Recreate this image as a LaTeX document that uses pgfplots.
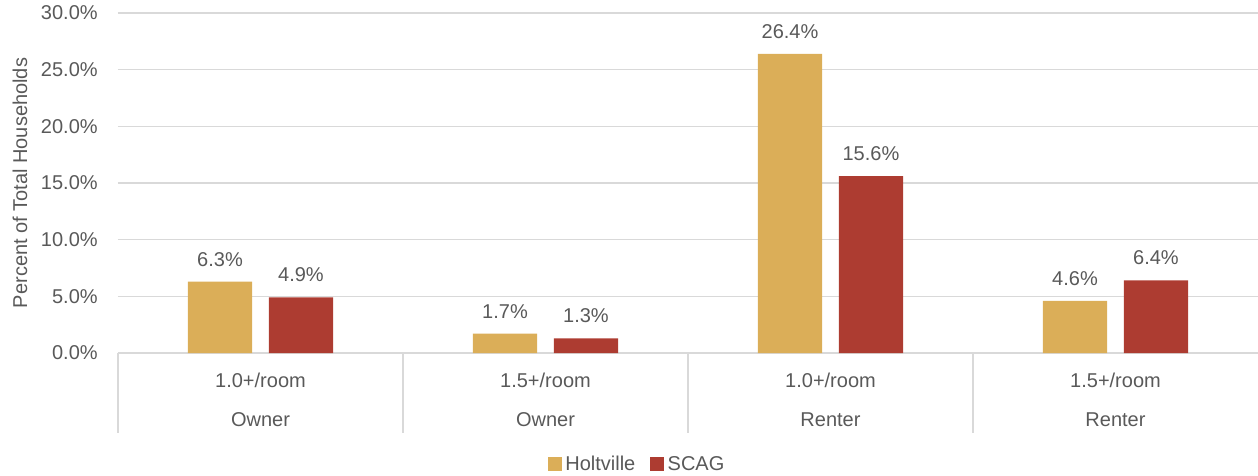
\documentclass[border=0pt]{standalone}
\usepackage{pgfplots}
\pgfplotsset{compat=1.18}
\usepackage{fontspec}
\setmainfont{Liberation Sans}
\definecolor{gold}{HTML}{DBAE58}
\definecolor{brick}{HTML}{AD3C31}
\definecolor{txt}{HTML}{595959}
\definecolor{gridc}{HTML}{D9D9D9}
\begin{document}
\begin{tikzpicture}
\useasboundingbox (-70.8pt,-73.2pt) rectangle (684pt,211.8pt);
\begin{axis}[
  at={(0,0)}, anchor=south west,
  scale only axis, width=684pt, height=204pt,
  ybar, bar width=0.225,
  xmin=-0.5, xmax=3.5, ymin=0, ymax=30,
  ytick={0,5,...,30},
  xtick=\empty,
  axis x line*=bottom, axis y line*=left,
  x axis line style={gridc, line width=0.8pt, -},
  y axis line style={draw=none},
  ymajorgrids, grid style={gridc, line width=0.8pt},
  major tick length=0pt,
  clip=false,
  font=\fontsize{12}{14}\selectfont,
  /pgf/number format/assume math mode=true,
  yticklabel={\pgfmathprintnumber[fixed,fixed zerofill,precision=1]{\tick}\%},
  yticklabel style={text=txt, anchor=east, inner sep=0pt, xshift=-12pt, font=\fontsize{12}{14}\selectfont},
  ylabel={Percent of Total Households},
  ylabel style={text=txt, at={(axis description cs:-0.086,0.5)}, anchor=center, font=\fontsize{12}{14}\selectfont},
  nodes near coords={\pgfmathprintnumber[fixed,fixed zerofill,precision=1]{\pgfplotspointmeta}\%},
  every node near coord/.append style={text=txt, anchor=south, inner sep=0pt, yshift=9pt, font=\fontsize{12}{14}\selectfont},
  legend style={at={(axis description cs:0.456,-0.329)}, anchor=center, draw=none, legend columns=2,
    font=\fontsize{12}{14}\selectfont, text=txt,
    /tikz/every even column/.append style={column sep=7pt}},
  legend image code/.code={\fill[#1] (0pt,-3.6pt) rectangle (8.4pt,4.8pt);},
]
\addplot[fill=gold, draw=none, bar shift=-0.142] coordinates {(0,6.3) (1,1.7) (2,26.4) (3,4.6)};
\addlegendentry{Holtville}
\addplot[fill=brick, draw=none, bar shift=0.142] coordinates {(0,4.9) (1,1.3) (2,15.6) (3,6.4)};
\addlegendentry{SCAG}
\foreach \s in {-0.5,0.5,1.5,2.5}{
  \edef\temp{\noexpand\draw[gridc, line width=0.8pt] (axis cs:\s,0) -- ++(0pt,-48pt);}
  \temp
}
\foreach \c/\a/\b in {0/1.0+\slash room/Owner,1/1.5+\slash room/Owner,2/1.0+\slash room/Renter,3/1.5+\slash room/Renter}{
  \edef\temp{\noexpand\node[text=txt, anchor=center, font=\noexpand\fontsize{12}{14}\noexpand\selectfont] at (axis cs:\c,0) [yshift=-16.2pt] {\a};
    \noexpand\node[text=txt, anchor=center, font=\noexpand\fontsize{12}{14}\noexpand\selectfont] at (axis cs:\c,0) [yshift=-40.2pt] {\b};}
  \temp
}
\end{axis}
\end{tikzpicture}
\end{document}
